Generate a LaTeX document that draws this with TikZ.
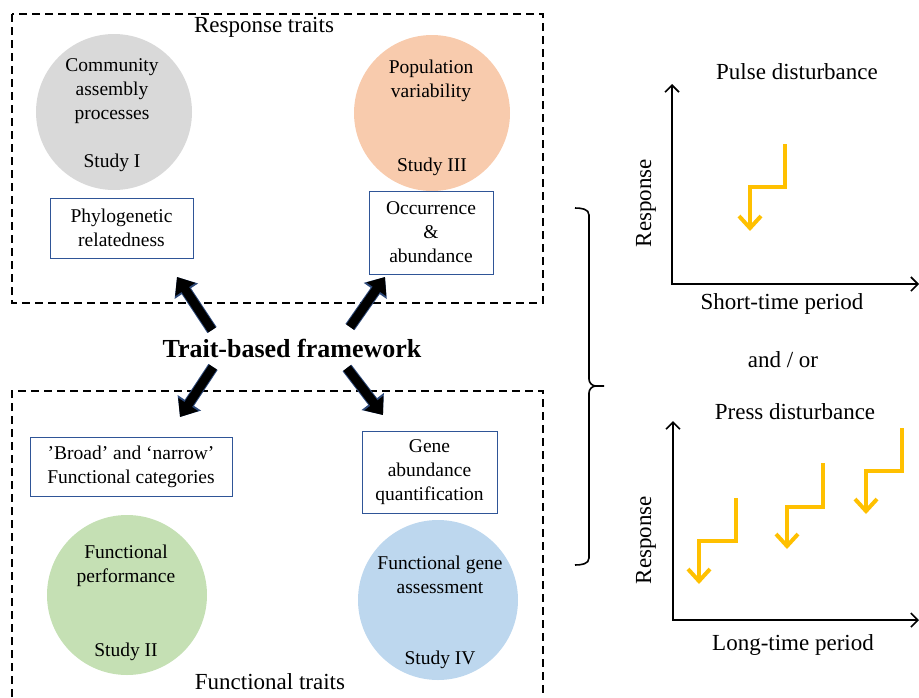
\documentclass[tikz,border=0pt]{standalone}
\usepackage{fontspec}
\setmainfont{Liberation Serif}
\usetikzlibrary{arrows.meta,positioning}

\definecolor{boxblue}{HTML}{2F5597}
\definecolor{arrowblue}{HTML}{2E4A7A}
\definecolor{greyfill}{HTML}{D9D9D9}
\definecolor{orangefill}{HTML}{F8CBAD}
\definecolor{greenfill}{HTML}{C5E0B4}
\definecolor{bluefill}{HTML}{BDD7EE}
\definecolor{stepyellow}{HTML}{FFC000}

\tikzset{
	traitbox/.style={draw=boxblue, line width=0.9pt, align=center, inner sep=0pt, font=\fontsize{19.5}{24}\selectfont},
	circtext/.style={align=center, font=\fontsize{19.5}{24}\selectfont},
	title/.style={font=\fontsize{23}{27}\selectfont},
	section/.style={draw, dashed, dash pattern=on 8pt off 5pt, line width=1.6pt},
	bigarrow/.style={line width=9pt, -{Triangle[length=15pt,width=23pt]},
		preaction={draw=arrowblue, line width=11pt, -{Triangle[length=17pt,width=27pt]}}},
	axis/.style={line width=1.6pt, {Straight Barb[length=7pt,width=14pt]}-{Straight Barb[length=7pt,width=14pt]}},
	stepdown/.style={draw=stepyellow, line width=4pt, -{Straight Barb[length=12pt,width=22pt]}}
}

\begin{document}
\begin{tikzpicture}[x=1pt,y=-1pt]
	\useasboundingbox (0,0) rectangle (919,697);

	% dashed sections
	\draw[section] (12,14) rectangle (543,303);
	\draw[section] (12,710) -- (12,391) -- (543,391) -- (543,710);
	\node[title] (resp) at (264,27) {Response traits};
	\node[title] (func) at (270,682) {Functional traits};

	% studies
	\fill[greyfill] (114,112) circle (78pt);
	\fill[orangefill] (432,113) circle (78pt);
	\fill[greenfill] (127,595) circle (80pt);
	\fill[bluefill] (438,600) circle (80pt);

	\node[circtext] (comm) at (112,91) {Community\\assembly\\processes};
	\node[circtext] (s1) at (112,163) {Study I};
	\node[circtext] (pop) at (431,81) {Population\\variability};
	\node[circtext] (s3) at (432,167) {Study III};
	\node[circtext] (perf) at (126,566) {Functional\\performance};
	\node[circtext] (s2) at (126,652) {Study II};
	\node[circtext] (gene) at (440,575) {Functional gene\\assessment};
	\node[circtext] (s4) at (440,660) {Study IV};

	\node[traitbox, minimum width=143pt, minimum height=60pt] (phylo) at (121.5,228) {Phylogenetic\\relatedness};
	\node[traitbox, minimum width=124pt, minimum height=83pt] (occ) at (431,232.5) {Occurrence\\\&\\abundance};
	\node[traitbox, minimum width=202pt, minimum height=59pt] (broad) at (131,466.5) {’Broad’ and ‘narrow’\\Functional categories};
	\node[traitbox, minimum width=135pt, minimum height=82pt] (quant) at (429.5,472) {Gene\\abundance\\quantification};

	% framework and arrows
	\node[font=\fontsize{26}{30}\selectfont\bfseries] (tbf) at (292,348) {Trait-based framework};
	\coordinate (ul) at (177,277);
	\coordinate (ur) at (385,277);
	\coordinate (ll) at (180,417);
	\coordinate (lr) at (383,415);
	\draw[bigarrow] (212,330) -- (ul);
	\draw[bigarrow] (350,327) -- (ur);
	\draw[bigarrow] (213,367) -- (ll);
	\draw[bigarrow] (347,368) -- (lr);

	% brace
	\draw[line width=1.6pt] (575,208) to[out=0,in=90] (589,215) -- (589,379) to[out=-90,in=180] (596,386) -- (604,386);
	\draw[line width=1.6pt] (596,386) to[out=180,in=90] (589,393) -- (589,558) to[out=-90,in=0] (575,565);

	% pulse disturbance
	\node[title] (pulse) at (797,72) {Pulse disturbance};
	\draw[axis] (672,84) |- (919,284);
	\node[title, rotate=90] (ry1) at (646,203) {Response};
	\node[title] (short) at (782,304) {Short-time period};
	\draw[stepdown] (785,144) -- ++(0,43) -- ++(-35,0) -- ++(0,44);

	\node[title] (andor) at (783,360) {and / or};

	% press disturbance
	\node[title] (press) at (795,412) {Press disturbance};
	\draw[axis] (673,421) |- (919,620);
	\node[title, rotate=90] (ry2) at (646,540) {Response};
	\node[title] (long) at (793,645) {Long-time period};
	\draw[stepdown] (736,498) -- ++(0,43) -- ++(-37,0) -- ++(0,43);
	\draw[stepdown] (823,463) -- ++(0,44) -- ++(-36,0) -- ++(0,42);
	\draw[stepdown] (902,428) -- ++(0,43) -- ++(-36,0) -- ++(0,43);
\end{tikzpicture}
\end{document}
